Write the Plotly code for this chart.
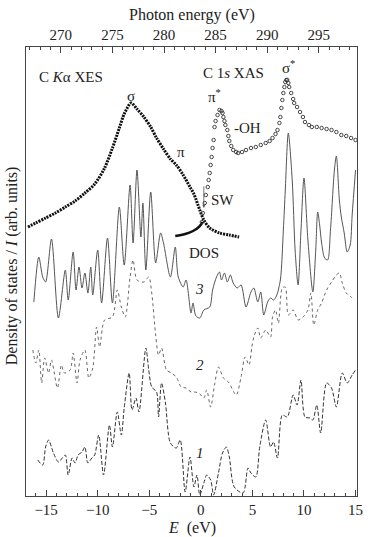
import plotly.graph_objects as go

# ---------------- data (E in eV, intensities in arb. units) ----------------
xes_E = [-16.76, -16.0, -15.05, -14.1, -13.14, -12.19, -11.24, -10.29, -9.33, -8.57, -7.90, -7.43,
         -6.76, -6.19, -5.52, -4.86, -4.29, -3.62, -2.95, -2.38, -1.71, -1.05, -0.67, -0.10, 0.29,
         0.86, 1.81, 2.76, 3.71]
xes_I = [276, 280, 285, 290, 296, 302, 310, 319, 335, 355, 375, 389, 400, 394, 386, 376, 365, 354,
         344, 338, 328, 316, 309, 293, 283, 275, 270, 268, 266]

dos_edge_E = [-2.48, -1.52, -0.76, -0.19, 0.19]
dos_edge_I = [267, 269, 272, 276, 281]

xas_E = [0.10, 0.19, 0.38, 0.48, 0.67, 0.76, 0.86, 0.95, 1.05, 1.14, 1.24, 1.33, 1.43, 1.62, 1.81,
         2.0, 2.10, 2.19, 2.29, 2.38, 2.57, 2.67, 2.76, 2.95, 3.14, 3.43, 3.62, 4.0, 4.38, 4.86, 5.33,
         5.81, 6.29, 6.67, 6.95, 7.24, 7.43, 7.62, 7.71, 7.81, 7.90, 8.0, 8.10, 8.19, 8.29, 8.38,
         8.48, 8.57, 8.76, 8.95, 9.05, 9.33, 9.62, 9.90, 10.10, 10.48, 10.76, 11.24, 11.71, 12.19,
         12.67, 13.14, 13.62, 14.10, 14.57, 15.0]
xas_I = [281, 290, 300, 308, 316, 323, 330, 338, 346, 355, 363, 376, 382, 388, 393, 392, 390, 386,
         382, 378, 373, 367, 362, 357, 353, 351, 350, 351, 353, 355, 356, 358, 360, 362, 365, 369,
         373, 380, 386, 395, 403, 410, 416, 421, 423, 423, 420, 416, 410, 404, 400, 396, 391, 386,
         381, 378, 376, 376, 375, 374, 373, 371, 368, 367, 365, 363]

dos3_E = [-16.19, -15.71, -15.33, -15.05, -14.48, -13.81, -13.14, -12.86, -12.38, -12.10, -11.81,
          -11.52, -11.24, -10.95, -10.67, -10.48, -10.0, -9.62, -9.05, -8.57, -7.90, -7.43, -6.86,
          -6.57, -6.19, -5.81, -5.62, -5.33, -4.86, -4.38, -3.90, -3.62, -2.95, -2.48, -2.19, -1.71,
          -1.43, -0.95, -0.76, -0.48, -0.10, 0.29, 0.86, 1.14, 1.52, 1.81, 2.0, 2.29, 2.57, 2.86,
          3.14, 3.52, 3.90, 4.38, 4.86, 5.14, 5.52, 5.81, 6.10, 6.48, 6.76, 7.05, 7.33, 7.71, 8.0,
          8.19, 8.48, 8.86, 9.14, 9.43, 9.71, 10.0, 10.38, 10.86, 11.14, 11.33, 11.52, 11.71, 12.0,
          12.29, 12.57, 12.95, 13.14, 13.43, 13.62, 13.90, 14.19, 14.48, 14.67, 15.0]
dos3_I = [201, 246, 226, 221, 264, 185, 233, 203, 251, 213, 236, 215, 230, 210, 236, 208, 253, 200,
          265, 200, 296, 238, 318, 260, 333, 266, 300, 233, 311, 240, 270, 260, 226, 256, 226, 216,
          223, 190, 200, 187, 185, 193, 196, 213, 226, 231, 223, 230, 221, 228, 220, 215, 218, 196,
          211, 215, 201, 211, 188, 201, 205, 203, 207, 223, 273, 313, 370, 323, 253, 218, 273, 325,
          263, 211, 253, 291, 278, 260, 245, 243, 273, 333, 347, 303, 286, 270, 251, 258, 288, 333]

dos2_E = [-16.29, -16.0, -15.71, -15.43, -15.14, -14.76, -14.48, -13.90, -13.52, -13.24, -12.67,
          -12.38, -12.0, -11.71, -11.24, -10.86, -10.48, -10.10, -9.81, -9.33, -8.57, -8.10, -7.71,
          -7.33, -6.86, -6.57, -6.19, -5.52, -5.05, -4.76, -4.38, -4.10, -3.81, -3.33, -2.86, -2.38,
          -1.90, -1.43, -0.95, -0.67, -0.19, 0.29, 0.57, 0.95, 1.33, 1.71, 2.19, 2.67, 3.43, 3.90,
          4.29, 4.67, 4.95, 5.14, 5.52, 5.81, 6.29, 6.76, 6.95, 7.24, 7.52, 7.90, 8.19, 8.48, 8.95,
          9.43, 9.90, 10.38, 10.67, 10.95, 11.33, 11.71, 12.19, 12.67, 13.14, 13.43, 13.71, 14.10,
          14.57, 14.95]
dos2_I = [153, 140, 153, 120, 145, 130, 143, 115, 138, 130, 133, 150, 120, 143, 153, 125, 135, 176,
          156, 183, 186, 213, 196, 186, 226, 243, 223, 221, 226, 210, 168, 148, 155, 133, 130, 126,
          116, 115, 111, 111, 110, 105, 113, 96, 118, 136, 125, 121, 108, 126, 146, 138, 156, 166,
          175, 165, 173, 166, 186, 193, 180, 215, 216, 188, 193, 183, 186, 193, 210, 178, 193, 200,
          213, 221, 228, 230, 220, 210, 206, 203]

dos1_E = [-15.81, -15.33, -15.05, -14.76, -14.29, -13.81, -13.43, -13.14, -12.86, -12.48, -12.19,
          -11.90, -11.52, -11.24, -10.95, -10.57, -10.29, -9.90, -9.43, -8.86, -8.57, -8.10, -7.71,
          -7.43, -6.95, -6.67, -6.29, -6.0, -5.33, -5.05, -4.76, -4.29, -4.10, -3.81, -3.43, -2.95,
          -2.38, -2.0, -1.52, -1.05, -0.67, -0.38, -0.10, 0.29, 0.57, 0.95, 1.24, 1.71, 2.10, 2.48,
          2.76, 3.24, 4.10, 4.57, 4.86, 5.33, 5.71, 6.29, 6.76, 7.05, 7.43, 7.90, 8.38, 8.95, 9.33,
          9.71, 10.10, 10.57, 10.86, 11.24, 11.62, 12.19, 12.67, 13.14, 13.71, 14.19, 14.67, 15.0]
dos1_I = [43, 38, 56, 63, 50, 41, 45, 48, 28, 45, 40, 48, 51, 56, 40, 45, 48, 68, 28, 78, 56, 91, 68,
          95, 130, 93, 105, 91, 155, 133, 116, 111, 86, 120, 100, 60, 55, 63, 11, 46, 16, 28, 8, 20,
          28, 23, 8, 30, 50, 56, 46, 16, 10, 35, 30, 26, 56, 83, 56, 61, 45, 88, 86, 108, 98, 123, 86,
          85, 83, 98, 70, 120, 115, 96, 130, 120, 128, 133]

bottom_ticks = [-15, -10, -5, 0, 5, 10, 15]
bottom_labels = ["\u221215", "\u221210", "\u22125", "0", "5", "10", "15"]
top_ticks = [270, 275, 280, 285, 290, 295]

# ---------------- figure ----------------
FONT = "Liberation Serif"
INK = "#222222"

fig = go.Figure()

fig.add_trace(go.Scatter(x=dos3_E, y=dos3_I, mode="lines",
                         line=dict(color="#555555", width=1, shape="spline", smoothing=0.8)))
fig.add_trace(go.Scatter(x=dos2_E, y=dos2_I, mode="lines",
                         line=dict(color="#666666", width=1, dash="dot", shape="spline", smoothing=0.8)))
fig.add_trace(go.Scatter(x=dos1_E, y=dos1_I, mode="lines",
                         line=dict(color="#333333", width=1, dash="4px,2px", shape="spline", smoothing=0.8)))
fig.add_trace(go.Scatter(x=xes_E, y=xes_I, mode="lines",
                         line=dict(color="#111111", width=3, dash="2px,1px", shape="spline", smoothing=0.8)))
fig.add_trace(go.Scatter(x=dos_edge_E, y=dos_edge_I, mode="lines",
                         line=dict(color="#111111", width=2.5, shape="spline")))
fig.add_trace(go.Scatter(x=xas_E, y=xas_I, mode="markers",
                         marker=dict(symbol="circle-open", size=3.5, color="#333333",
                                     line=dict(width=0.9, color="#333333"))))
# dummy trace to attach the top (photon energy) axis
fig.add_trace(go.Scatter(x=[270], y=[None], xaxis="x2", mode="markers", hoverinfo="skip"))

axis_common = dict(showline=True, linecolor="#444444", linewidth=1, showgrid=False, zeroline=False,
                   ticks="inside", ticklen=6, tickwidth=1, tickcolor="#444444",
                   tickfont=dict(family=FONT, size=15, color=INK))

fig.update_layout(
    width=371, height=537,
    margin=dict(l=26, r=8, t=47, b=41),
    paper_bgcolor="white", plot_bgcolor="white",
    showlegend=False,
    font=dict(family=FONT, size=14, color=INK),
    xaxis=dict(range=[-16.95, 15.14], tickmode="array", tickvals=bottom_ticks,
               ticktext=bottom_labels,
               minor=dict(ticks="inside", dtick=1, ticklen=3, tickcolor="#444444"),
               mirror=False, **axis_common),
    xaxis2=dict(range=[-16.95 + 283.57, 15.14 + 283.57], overlaying="x", side="top", anchor="y",
                tickmode="array", tickvals=top_ticks,
                minor=dict(ticks="inside", dtick=1, ticklen=3, tickcolor="#444444"),
                **axis_common),
    yaxis=dict(range=[7, 456], showline=True, linecolor="#444444", linewidth=1, mirror=True,
               showgrid=False, zeroline=False, ticks="", showticklabels=False),
)

def label(text, x, y, size=15, xanchor="center", color=INK):
    fig.add_annotation(x=x, y=y, xref="x", yref="y", text=text, showarrow=False,
                       xanchor=xanchor, yanchor="middle",
                       font=dict(family=FONT, size=size, color=color))

label("C <i>K</i>\u03b1 XES", -15.9, 426, xanchor="left")
label("\u03c3", -6.76, 407)
label("\u03c0", -1.9, 351)
label("C 1<i>s</i> XAS", 3.14, 430)
label("\u03c3<sup>*</sup>", 8.5, 436)
label("\u03c0<sup>*</sup>", 1.33, 407)
label("-OH", 4.5, 375)
label("SW", 2.1, 303)
label("DOS", 0.3, 250)
label("<i>3</i>", -0.1, 214)
label("<i>2</i>", -0.1, 138)
label("<i>1</i>", -0.1, 50)

# SW arrow
fig.add_annotation(x=0.29, y=295, ax=0.29, ay=318, xref="x", yref="y", axref="x", ayref="y",
                   text="", showarrow=True, arrowhead=2, arrowsize=0.8, arrowwidth=0.8,
                   arrowcolor="#555555")

# axis titles
fig.add_annotation(x=(195 - 26) / 337, y=-(528 - 496) / 449, xref="paper", yref="paper",
                   text="<i>E</i>  (eV)", showarrow=False, xanchor="center", yanchor="middle",
                   font=dict(family=FONT, size=16, color=INK))
fig.add_annotation(x=(195 - 26) / 337, y=1 + (47 - 15) / 449, xref="paper", yref="paper",
                   text="Photon energy (eV)", showarrow=False, xanchor="center", yanchor="middle",
                   font=dict(family=FONT, size=16, color=INK))
fig.add_annotation(x=-(14) / 337, y=(496 - 266) / 449, xref="paper", yref="paper",
                   text="Density of states / <i>I</i> (arb. units)", showarrow=False, textangle=-90,
                   xanchor="center", yanchor="middle",
                   font=dict(family=FONT, size=16, color=INK))

fig.write_html("out.html", config={"displayModeBar": False},
               post_script="document.body.style.margin='0';document.body.style.overflow='hidden';")
